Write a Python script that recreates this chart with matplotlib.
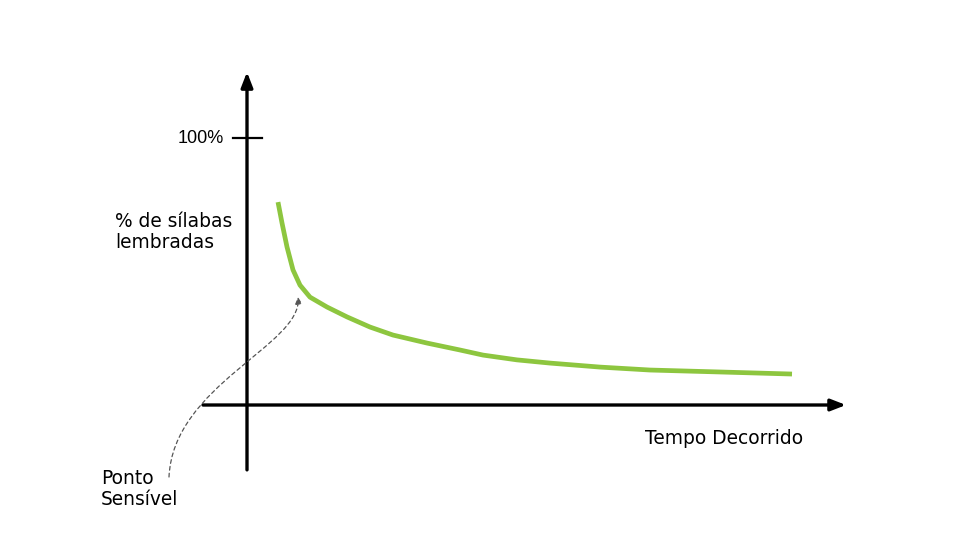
import matplotlib
matplotlib.use("Agg")
import matplotlib.pyplot as plt
from matplotlib.patches import FancyArrowPatch
from matplotlib.path import Path
from matplotlib.transforms import Affine2D

# Data (time in arbitrary units, % of syllables remembered)
tempo = [3.1, 3.5, 4.0, 4.6, 5.3, 6.3, 8.0, 10.0, 12.3, 14.6, 18.0, 21.3, 23.6, 27.0,
         30.3, 35.3, 40.3, 47.0, 54.5]
lembradas = [76.0, 68.2, 59.2, 50.6, 44.9, 40.4, 36.7, 33.0, 29.2, 26.2, 23.2, 20.6, 18.7,
             16.9, 15.7, 14.2, 13.1, 12.4, 11.6]
tick_valor = 100
tick_rotulo = "100%"
rotulo_y = "% de sílabas\nlembradas"
rotulo_x = "Tempo Decorrido"
rotulo_ponto = "Ponto\nSensível"

fig = plt.figure(figsize=(9.6, 5.4), dpi=100)
ax = fig.add_axes([0, 0, 1, 1])
ax.set_xlim(-24.7, 71.3)
ax.set_ylim(-50.56, 151.69)
ax.axis("off")

# axes with arrows
ax.annotate("", xy=(0, 124.7), xytext=(0, -24.3),
            arrowprops=dict(arrowstyle="-|>,head_length=0.9,head_width=0.35", lw=2.4, color="black",
                            shrinkA=0, shrinkB=0))
ax.annotate("", xy=(59.9, 0), xytext=(-4.4, 0),
            arrowprops=dict(arrowstyle="-|>,head_length=0.9,head_width=0.35", lw=2.4, color="black",
                            shrinkA=0, shrinkB=0))
# 100% tick
ax.plot([-1.4, 1.5], [tick_valor, tick_valor], color="black", lw=1.6)
ax.text(-2.3, tick_valor, tick_rotulo, ha="right", va="center", fontsize=13,
        family="Liberation Sans", color="black")

# curve
ax.plot(tempo, lembradas, color="#8dc63f", lw=3.4, solid_capstyle="butt", solid_joinstyle="round")

# labels
ax.text(-13.2, 64.8, rotulo_y, ha="left", va="center", fontsize=13.4, family="DejaVu Sans",
        linespacing=1.1)
ax.text(39.8, -12.7, rotulo_x, ha="left", va="center", fontsize=13.4, family="DejaVu Sans")
ax.text(-14.6, -31.5, rotulo_ponto, ha="left", va="center", fontsize=13.4, family="DejaVu Sans",
        linespacing=1.1)

# dashed annotation curve (pixel-space path, top-left origin)
pix = Affine2D().scale(1, -1).translate(0, 540)
verts = [(169, 477), (173, 385), (302, 345), (298, 297)]
codes = [Path.MOVETO, Path.CURVE4, Path.CURVE4, Path.CURVE4]
arr = FancyArrowPatch(path=Path(verts, codes), arrowstyle="-|>,head_length=4,head_width=2",
                      color="#555555", lw=0.9, linestyle=(0, (3, 2.5)), transform=pix)
fig.add_artist(arr)

fig.savefig("out.png", dpi=100)
